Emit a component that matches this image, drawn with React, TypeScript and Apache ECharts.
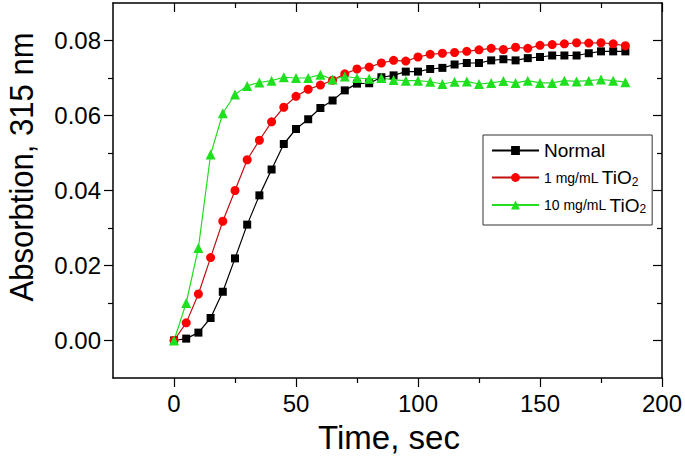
import React, { useEffect, useRef } from "react";
import * as echarts from "echarts";

// ---- data ----
const timeSec = [0, 5, 10, 15, 20, 25, 30, 35, 40, 45, 50, 55, 60, 65, 70, 75, 80, 85, 90, 95, 100, 105, 110, 115, 120, 125, 130, 135, 140, 145, 150, 155, 160, 165, 170, 175, 180, 185];

const normal = [0, 0.0005, 0.0021, 0.006, 0.013, 0.0219, 0.0309, 0.0387, 0.0456, 0.0524, 0.0564, 0.059, 0.062, 0.064, 0.0667, 0.0685, 0.0686, 0.0702, 0.0707, 0.0717, 0.0717, 0.0724, 0.0727, 0.0736, 0.074, 0.074, 0.0747, 0.075, 0.0747, 0.0753, 0.0756, 0.076, 0.076, 0.076, 0.0766, 0.0771, 0.0771, 0.0771];

const tio2_1 = [0, 0.0047, 0.0124, 0.0221, 0.0318, 0.04, 0.0482, 0.0534, 0.0583, 0.0622, 0.0651, 0.067, 0.0681, 0.0694, 0.0711, 0.0724, 0.0729, 0.074, 0.0747, 0.0745, 0.0756, 0.0763, 0.0766, 0.0768, 0.0771, 0.0775, 0.0779, 0.0776, 0.0782, 0.0779, 0.0787, 0.0789, 0.0791, 0.0794, 0.0793, 0.0794, 0.0791, 0.0786];

const tio2_10 = [0, 0.01, 0.0247, 0.0496, 0.0606, 0.0656, 0.0679, 0.0688, 0.0693, 0.0702, 0.07, 0.07, 0.0709, 0.0696, 0.0704, 0.07, 0.0698, 0.07, 0.0695, 0.0693, 0.0693, 0.069, 0.0684, 0.069, 0.0691, 0.0684, 0.0687, 0.0692, 0.0687, 0.0693, 0.0687, 0.0687, 0.0693, 0.0691, 0.0693, 0.0696, 0.0693, 0.0689];

const seriesNames = ["Normal", "1 mg/mL TiO2", "10 mg/mL TiO2"];

const xMajorTicks = [0, 50, 100, 150, 200];
const xMinorTicks = [25, 75, 125, 175];
const yMajorTicks = [0, 0.02, 0.04, 0.06, 0.08];
const yMinorTicks = [0.01, 0.03, 0.05, 0.07];

const xTitle = "Time, sec";
const yTitle = "Absorbtion, 315 nm";

const FONT = '"Liberation Sans", Arial, Helvetica, sans-serif';

function pairs(xs: number[], ys: number[]) {
  return xs.map((x, i) => [x, ys[i]]);
}

export default function App() {
  const ref = useRef<HTMLDivElement>(null);

  useEffect(() => {
    if (!ref.current) return;
    const chart = echarts.init(ref.current, undefined, { renderer: "svg" });

    const gridPos = { left: 113, right: 23, top: 3, bottom: 82 };
    const axisLine = { show: true, onZero: false, lineStyle: { color: "#000", width: 1.5 } };
    const noLine = { show: false, onZero: false };
    const tickStyle = { color: "#000", width: 1.2 };

    const xBase = { type: "value", min: -25, max: 200, splitLine: { show: false } };
    const yBase = { type: "value", min: -0.01, max: 0.09, splitLine: { show: false } };

    const legendFormatter = (name: string) => {
      if (name === "Normal") return "{n|Normal}";
      const parts = name.split(" TiO2");
      return `{s|${parts[0]}} {t|TiO}{u|2}`;
    };

    const option: any = {
      animation: false,
      backgroundColor: "#fff",
      grid: [
        { ...gridPos, containLabel: false },
        { ...gridPos, containLabel: false },
      ],
      xAxis: [
        {
          ...xBase,
          gridIndex: 0,
          position: "bottom",
          axisLine,
          axisTick: { show: true, inside: false, length: 9, customValues: xMajorTicks, lineStyle: tickStyle },
          axisLabel: { show: true, customValues: xMajorTicks, fontSize: 24, color: "#000", fontFamily: FONT, margin: 13 },
        },
        {
          ...xBase,
          gridIndex: 0,
          position: "top",
          axisLine,
          axisTick: { show: true, inside: true, length: 9, customValues: xMajorTicks, lineStyle: tickStyle },
          axisLabel: { show: false },
        },
        {
          ...xBase,
          gridIndex: 1,
          position: "bottom",
          axisLine: noLine,
          axisTick: { show: true, inside: false, length: 5, customValues: xMinorTicks, lineStyle: tickStyle },
          axisLabel: { show: false },
        },
        {
          ...xBase,
          gridIndex: 1,
          position: "top",
          axisLine: noLine,
          axisTick: { show: true, inside: true, length: 5, customValues: xMinorTicks, lineStyle: tickStyle },
          axisLabel: { show: false },
        },
      ],
      yAxis: [
        {
          ...yBase,
          gridIndex: 0,
          position: "left",
          axisLine,
          axisTick: { show: true, inside: false, length: 9, customValues: yMajorTicks, lineStyle: tickStyle },
          axisLabel: {
            show: true,
            customValues: yMajorTicks,
            fontSize: 24,
            color: "#000",
            fontFamily: FONT,
            margin: 12,
            formatter: (v: number) => v.toFixed(2),
          },
        },
        {
          ...yBase,
          gridIndex: 0,
          position: "right",
          axisLine,
          axisTick: { show: true, inside: true, length: 9, customValues: yMajorTicks, lineStyle: tickStyle },
          axisLabel: { show: false },
        },
        {
          ...yBase,
          gridIndex: 1,
          position: "left",
          axisLine: noLine,
          axisTick: { show: true, inside: false, length: 5, customValues: yMinorTicks, lineStyle: tickStyle },
          axisLabel: { show: false },
        },
        {
          ...yBase,
          gridIndex: 1,
          position: "right",
          axisLine: noLine,
          axisTick: { show: true, inside: true, length: 5, customValues: yMinorTicks, lineStyle: tickStyle },
          axisLabel: { show: false },
        },
      ],
      legend: {
        show: true,
        orient: "vertical",
        left: 483,
        top: 135,
        itemWidth: 47,
        itemHeight: 11,
        itemGap: 5.5,
        padding: [6, 6, 10, 8],
        borderColor: "#333",
        borderWidth: 1,
        backgroundColor: "#fff",
        data: seriesNames,
        formatter: legendFormatter,
        textStyle: {
          color: "#000",
          fontFamily: FONT,
          rich: {
            n: { fontSize: 19, fontFamily: FONT, color: "#000", lineHeight: 20 },
            s: { fontSize: 14, fontFamily: FONT, color: "#000", lineHeight: 20 },
            t: { fontSize: 19, fontFamily: FONT, color: "#000", lineHeight: 20 },
            u: { fontSize: 12, fontFamily: FONT, color: "#000", lineHeight: 20, verticalAlign: "bottom", padding: [10, 0, 0, 0] },
          },
        },
      },
      graphic: [
        {
          type: "text",
          x: 389,
          y: 437,
          style: { text: xTitle, fontSize: 33, fontFamily: FONT, fill: "#000", align: "center", verticalAlign: "middle" },
        },
        {
          type: "text",
          x: 22,
          y: 167,
          rotation: Math.PI / 2,
          scaleX: 0.94,
          style: { text: yTitle, fontSize: 33, fontFamily: FONT, fill: "#000", align: "center", verticalAlign: "middle" },
        },
      ],
      series: [
        {
          name: seriesNames[0],
          type: "line",
          xAxisIndex: 0,
          yAxisIndex: 0,
          data: pairs(timeSec, normal),
          symbol: "rect",
          symbolSize: 8,
          lineStyle: { color: "#000", width: 1.2 },
          itemStyle: { color: "#000" },
        },
        {
          name: seriesNames[1],
          type: "line",
          xAxisIndex: 0,
          yAxisIndex: 0,
          data: pairs(timeSec, tio2_1),
          symbol: "circle",
          symbolSize: 9,
          lineStyle: { color: "#c01010", width: 1.2 },
          itemStyle: { color: "#ff0000" },
        },
        {
          name: seriesNames[2],
          type: "line",
          xAxisIndex: 0,
          yAxisIndex: 0,
          data: pairs(timeSec, tio2_10),
          symbol: "triangle",
          symbolSize: 10,
          lineStyle: { color: "#22dd22", width: 1.2 },
          itemStyle: { color: "#1ee01e" },
        },
      ],
    };

    chart.setOption(option);
    return () => chart.dispose();
  }, []);

  return (
    <div
      ref={ref}
      style={{ position: "absolute", left: 0, top: 0, width: 685, height: 460, background: "#fff" }}
    />
  );
}
